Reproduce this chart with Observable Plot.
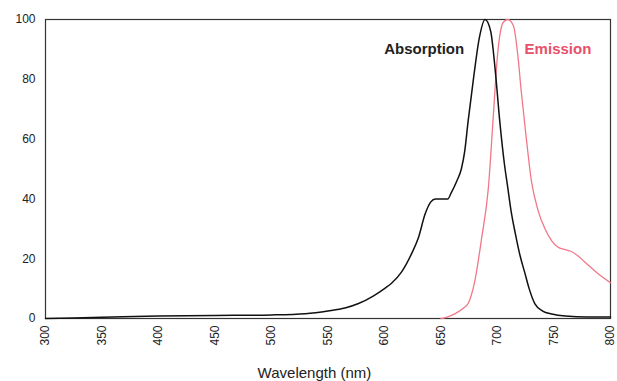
<!DOCTYPE html>
<html>
<head>
<meta charset="utf-8">
<script src="https://cdn.jsdelivr.net/npm/d3@7"></script>
<script src="https://cdn.jsdelivr.net/npm/@observablehq/plot@0.6"></script>
<style>
  html, body { margin: 0; padding: 0; background: #fff; }
</style>
</head>
<body>
<div id="chart"></div>
<script>
const absWl  = [300, 350, 400, 450, 500, 530, 550, 565, 577, 590, 600, 606, 615, 624, 630, 636, 641, 645, 650, 656, 659, 664, 668, 671, 674, 679, 684, 689, 694, 698, 702, 706, 709, 712, 716, 720, 724, 728, 733, 740, 748, 760, 780, 800];
const absVal = [0, 0.4, 0.8, 1, 1.2, 1.6, 2.5, 3.5, 5, 7.5, 10, 11.7, 15.5, 21.7, 27, 35, 39, 40, 40, 40, 42, 46, 50, 56, 66, 81, 94, 100, 96, 83, 66, 52, 44, 36, 28, 21, 15.5, 10, 5, 2.5, 1.5, 0.8, 0.5, 0.5];
const emWl   = [650, 654, 663, 670, 674, 680, 686, 692, 696, 700, 705, 709, 714, 718, 721, 725, 730, 736, 742, 748, 753, 760, 765, 771, 777, 789, 800];
const emVal  = [0, 0.3, 1.7, 3.5, 5, 12.7, 27, 44, 66, 88, 99, 100, 98, 88, 76, 62, 46, 36, 30, 26, 24, 23, 22.5, 21, 19, 15, 12];
const xTicks = [300, 350, 400, 450, 500, 550, 600, 650, 700, 750, 800];
const yTicks = [0, 20, 40, 60, 80, 100];
const seriesLabels = ["Absorption", "Emission"];
const xTitle = "Wavelength (nm)";

const absorption = absWl.map((w, i) => ({wl: w, v: absVal[i]}));
const emission = emWl.map((w, i) => ({wl: w, v: emVal[i]}));

const chart = Plot.plot({
  width: 617,
  height: 381,
  marginLeft: 45,
  marginRight: 7,
  marginTop: 19,
  marginBottom: 63,
  style: {fontFamily: "'Liberation Sans', Arial, sans-serif", fontSize: "12px", color: "#222", background: "#fff"},
  x: {domain: [300, 800]},
  y: {domain: [0, 100]},
  marks: [
    Plot.frame({stroke: "#333", strokeWidth: 1.2}),
    Plot.axisX({ticks: xTicks, tickRotate: -90, tickSize: 0, tickPadding: 7, label: null, fontSize: 12}),
    Plot.axisY({ticks: yTicks, tickSize: 0, tickPadding: 10, label: null, fontSize: 12}),
    Plot.text([xTitle], {x: 538, frameAnchor: "bottom", lineAnchor: "bottom", dy: 59, text: d => d, fontSize: 15, fill: "#222"}),
    Plot.line(emission, {x: "wl", y: "v", stroke: "#f07888", strokeWidth: 1.3, curve: "monotone-x"}),
    Plot.line(absorption, {x: "wl", y: "v", stroke: "#111", strokeWidth: 1.5, curve: "monotone-x"}),
    Plot.text([seriesLabels[0]], {x: 670.5, y: 90, text: d => d, textAnchor: "end", fontSize: 15, fill: "#222", fontWeight: "bold"}),
    Plot.text([seriesLabels[1]], {x: 724, y: 90, text: d => d, textAnchor: "start", fontSize: 15, fill: "#e8506a", fontWeight: "bold"})
  ]
});
document.getElementById("chart").appendChild(chart);
</script>
</body>
</html>
